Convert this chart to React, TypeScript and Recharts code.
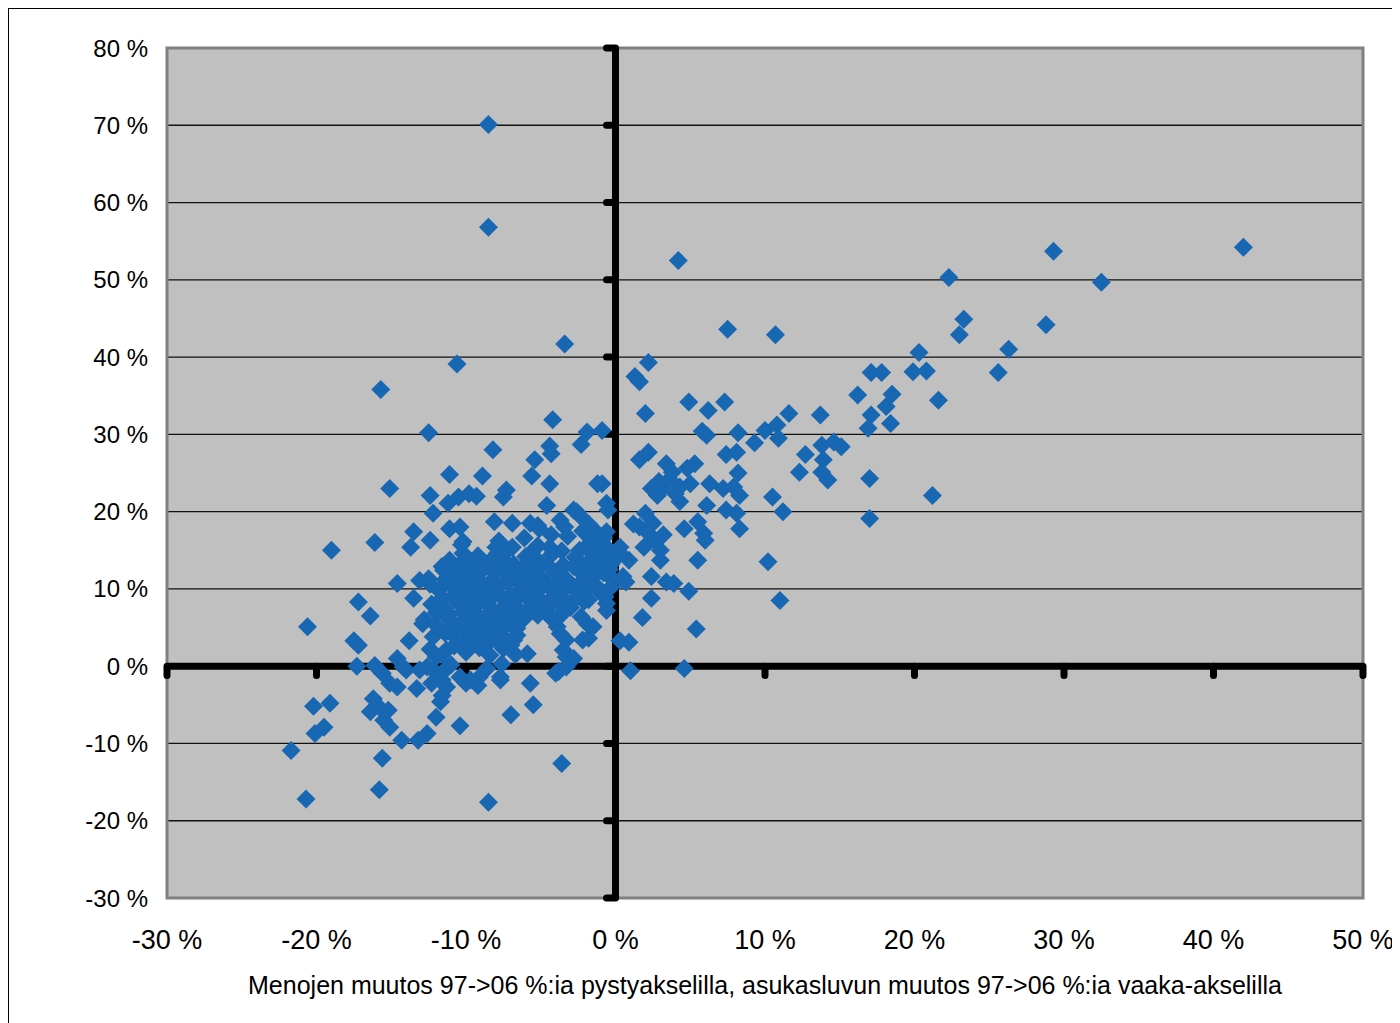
import React from "react";
import {
  ScatterChart,
  Scatter,
  XAxis,
  YAxis,
  CartesianGrid,
  ReferenceLine,
  ReferenceArea,
  Label,
} from "recharts";

// tick values (percent)
const xTicks = [-30, -20, -10, 0, 10, 20, 30, 40, 50];
const yTicks = [-30, -20, -10, 0, 10, 20, 30, 40, 50, 60, 70, 80];

const axisTitle =
  "Menojen muutos 97->06 %:ia pystyakselilla, asukasluvun muutos 97->06 %:ia vaaka-akselilla";

// [population change %, expenditure change %]
type Pt = [number, number];

const farRight: Pt[] = [
  [22.3, 50.3], [29.3, 53.7], [42.0, 54.2], [32.5, 49.7], [23.3, 44.9],
  [23.0, 42.9], [28.8, 44.2], [26.3, 41.0], [25.6, 38.0], [21.6, 34.4],
  [20.3, 40.6], [19.9, 38.1], [20.8, 38.2], [21.2, 22.1],
];

const rightMid: Pt[] = [
  [7.5, 43.6], [10.7, 42.9], [4.9, 34.2], [6.2, 33.1], [7.3, 34.2],
  [11.6, 32.7], [13.7, 32.5], [16.2, 35.1], [17.1, 38.0], [17.8, 38.0],
  [18.5, 35.2], [18.1, 33.6], [18.4, 31.4], [17.1, 32.5], [16.9, 30.8],
  [6.1, 29.9], [5.8, 30.4], [8.2, 30.2], [9.3, 28.9], [10.0, 30.5],
  [10.8, 31.2], [10.9, 29.5], [7.4, 27.4], [8.1, 27.7], [8.2, 25.0],
  [12.7, 27.4], [12.3, 25.1], [13.8, 28.6], [14.6, 29.0], [15.1, 28.4],
  [13.9, 26.7], [13.8, 25.1], [14.2, 24.1], [17.0, 24.3], [17.0, 19.1],
  [5.3, 26.2], [5.0, 23.6], [6.3, 23.6], [7.2, 23.0], [7.9, 23.2],
  [8.3, 22.1], [6.1, 20.8], [7.4, 20.2], [8.1, 19.8], [8.3, 17.8],
  [10.5, 21.9], [11.2, 20.0], [10.2, 13.5], [11.0, 8.5], [5.5, 18.7],
  [5.9, 17.2], [6.0, 16.3], [5.5, 13.7], [4.9, 9.7], [5.4, 4.8],
  [4.6, -0.3],
];

const nearRight: Pt[] = [
  [4.2, 52.5], [2.2, 39.3], [1.3, 37.5], [1.6, 36.8], [2.0, 32.7],
  [1.6, 26.7], [2.2, 27.7], [3.4, 26.2], [3.8, 25.1], [2.9, 23.9],
  [3.1, 23.0], [4.3, 23.2], [4.8, 25.6], [4.3, 21.3], [2.8, 22.1],
  [3.6, 24.2], [2.4, 23.0], [4.0, 22.3], [2.0, 19.8], [1.6, 18.0],
  [2.5, 18.5], [3.2, 17.0], [2.2, 17.2], [1.2, 18.4], [2.6, 16.3],
  [1.9, 15.4], [3.0, 15.0], [3.0, 13.7], [4.6, 17.8], [0.3, 15.4],
  [0.9, 13.7], [2.4, 11.6], [3.4, 10.9], [3.9, 10.7], [2.4, 8.8],
  [0.5, 11.6], [0.7, 10.9], [0.5, 11.1], [0.3, 14.6], [1.8, 6.3],
  [0.3, 3.3], [0.9, 3.1], [1.0, -0.6],
];

const nearZeroLeft: Pt[] = [
  [-0.1, 14.4], [-0.4, 11.6], [-0.9, 30.5], [-0.9, 23.6], [-0.6, 21.1],
  [-0.5, 20.2], [-0.6, 17.4], [-0.7, 9.0], [-0.6, 7.2], [-0.6, 8.1],
  [-0.1, 13.7], [-1.0, 12.4], [-1.0, 9.5], [-0.3, 10.2], [-1.3, 13.6],
  [-1.6, 16.3], [-0.8, 16.6],
];

const upperLeft: Pt[] = [
  [-8.5, 70.1], [-8.5, 56.8], [-3.4, 41.7], [-10.6, 39.1], [-15.7, 35.8],
  [-12.5, 30.2], [-15.1, 23.0], [-19.0, 15.0], [-16.1, 16.0], [-4.2, 31.9],
  [-8.2, 28.0], [-4.4, 28.5], [-4.3, 27.5], [-1.9, 30.3], [-2.3, 28.7],
  [-5.4, 26.7], [-5.6, 24.6], [-11.1, 24.8], [-8.9, 24.6], [-4.4, 23.6],
  [-1.2, 23.6], [-12.4, 22.1], [-12.2, 19.8], [-11.2, 21.1], [-10.5, 21.9],
  [-9.8, 22.3], [-9.3, 22.0], [-7.3, 22.8], [-7.5, 21.9], [-4.6, 20.8],
  [-13.5, 17.4], [-12.4, 16.3], [-11.1, 17.8], [-10.4, 18.0], [-10.2, 16.1],
  [-8.1, 18.7], [-6.9, 18.5], [-5.7, 18.5], [-5.1, 17.8], [-2.8, 20.2],
  [-3.7, 18.9], [-2.4, 19.5], [-1.5, 17.6], [-8.0, 15.4], [-13.7, 15.4],
  [-10.3, 15.7], [-10.2, 14.6], [-2.6, 20.0], [-1.3, 17.4],
];

const midLeft: Pt[] = [
  [-14.6, 10.7], [-13.1, 11.1], [-12.4, 10.6], [-17.2, 8.3], [-16.4, 6.5],
  [-20.6, 5.1], [-17.5, 3.3], [-17.2, 2.7], [-13.8, 3.3], [-17.3, 0.0],
  [-16.1, 0.1], [-15.6, -0.9], [-14.6, 1.0], [-14.0, -0.5], [-11.6, 12.9],
  [-11.1, 13.7], [-13.5, 8.8], [-14.2, -0.1], [-12.9, 5.5], [-12.2, 3.8],
  [-13.1, -0.5], [-12.0, 1.2], [-11.3, 2.1], [-12.5, 11.3], [-11.5, 12.4],
  [-11.0, 13.3], [-10.0, 11.8],
];

const lowerLeft: Pt[] = [
  [-15.1, -2.2], [-14.6, -2.7], [-13.3, -2.9], [-20.2, -5.2], [-19.1, -4.8],
  [-16.2, -4.2], [-16.4, -5.9], [-15.8, -5.3], [-15.2, -5.7], [-15.5, -7.0],
  [-15.1, -7.9], [-20.1, -8.7], [-19.5, -7.9], [-21.7, -10.9], [-14.3, -9.6],
  [-13.2, -9.6], [-12.6, -8.7], [-12.0, -6.6], [-10.4, -7.7], [-11.6, -3.8],
  [-11.7, -4.6], [-12.3, -2.2], [-11.6, -1.8], [-11.3, -2.7], [-10.0, -2.2],
  [-9.2, -2.5], [-7.7, -1.8], [-5.7, -2.2], [-5.5, -5.0], [-7.0, -6.3],
  [-3.6, -12.6], [-15.6, -11.9], [-15.8, -16.0], [-20.7, -17.2], [-8.5, -17.6],
  [-4.0, -0.9], [-12.6, -0.1], [-12.2, -0.5], [-11.7, -1.0], [-11.3, -0.3],
  [-10.4, -1.4], [-7.7, -1.4], [-9.1, -1.4], [-9.7, -1.8], [-3.8, -0.7],
];

// dense block of municipalities just left of the vertical axis
const core: Pt[] = [
  [-10.6, 9.8], [-9.7, 11.6], [-8.8, 9.4], [-8.2, 12.4], [-7.9, 14.6],
  [-9.3, 6.4], [-8.4, 7.7], [-7.7, 4.7], [-7.1, 6.0], [-10.8, 4.7],
  [-10.0, 3.4], [-9.1, 4.2], [-6.8, 3.4], [-6.6, 6.4], [-5.5, 8.1],
  [-4.6, 7.2], [-3.9, 9.4], [-5.9, 1.6], [-3.5, 2.1], [-3.3, -0.1],
  [-2.2, 3.4], [-1.9, 5.5], [-2.3, 6.4], [-3.3, 1.2], [-2.8, 1.0],
  [-1.8, 3.6], [-4.4, 6.4], [-1.5, 5.1], [-3.7, 4.2], [-3.3, 3.4],
  [-5.2, 18.2], [-4.3, 17.0], [-3.4, 18.0], [-3.2, 16.8], [-2.2, 17.5],
  [-1.8, 18.4], [-1.2, 16.8],
  [-7.8, 16.2], [-6.9, 15.4], [-6.1, 16.6], [-5.2, 15.6], [-4.4, 15.4],
  [-3.6, 14.9], [-2.0, 15.4], [-1.1, 15.8], [-0.4, 15.0],
  [-10.1, 13.8], [-9.2, 14.3], [-8.5, 13.4], [-7.6, 14.0], [-6.8, 13.2],
  [-6.0, 14.2], [-5.1, 13.5], [-4.3, 14.4], [-3.5, 13.1], [-2.7, 14.1],
  [-1.9, 13.3], [-1.1, 14.0], [-0.3, 13.2],
  [-10.8, 12.0], [-9.9, 11.4], [-9.0, 12.3], [-8.2, 11.2], [-7.4, 12.1],
  [-6.5, 11.5], [-5.7, 12.4], [-4.9, 11.3], [-4.0, 12.0], [-3.2, 11.1],
  [-2.4, 12.3], [-1.6, 11.4], [-0.8, 12.1],
  [-11.8, 9.8], [-11.0, 10.5], [-10.2, 9.3], [-9.4, 10.1], [-8.6, 9.5],
  [-7.8, 10.4], [-7.0, 9.2], [-6.2, 10.0], [-5.3, 9.6], [-4.5, 10.3],
  [-3.7, 9.4], [-2.9, 10.2], [-2.0, 9.7], [-1.3, 10.4],
  [-12.3, 8.0], [-11.4, 7.4], [-10.6, 8.3], [-9.8, 7.6], [-9.0, 8.4],
  [-8.2, 7.3], [-7.3, 8.1], [-6.5, 7.4], [-5.6, 8.2], [-4.8, 7.5],
  [-3.9, 8.3], [-3.0, 7.6], [-2.1, 8.4],
  [-12.8, 6.0], [-12.0, 5.3], [-11.2, 6.2], [-10.4, 5.5], [-9.6, 6.3],
  [-8.7, 5.2], [-7.9, 6.1], [-7.0, 5.4], [-6.1, 6.2], [-3.9, 5.1],
  [-11.4, 4.3], [-10.6, 3.5], [-9.8, 4.4], [-9.0, 3.2], [-8.3, 4.1],
  [-7.4, 3.6], [-6.6, 4.0],
  [-12.4, 2.2], [-11.6, 1.5], [-10.8, 2.6], [-10.0, 1.8], [-9.1, 2.4],
  [-8.4, 1.4], [-7.5, 2.3], [-6.7, 1.5],
  [-11.0, 0.2], [-8.6, -0.3], [-7.6, 0.3],
];

// further municipalities packed inside the same block
const coreFill: Pt[] = [
  [-7.2, 15.0], [-5.6, 14.8], [-2.4, 15.0], [-1.5, 14.6], [-0.7, 14.2],
  [-10.4, 12.8], [-9.5, 13.0], [-8.6, 12.9], [-7.8, 13.0], [-7.0, 12.7],
  [-6.1, 13.0], [-5.3, 12.7], [-4.5, 13.0], [-3.6, 12.6], [-2.8, 12.9],
  [-2.0, 12.6], [-1.2, 12.9], [-0.4, 12.5],
  [-11.4, 11.2], [-10.5, 10.7], [-9.7, 10.6], [-8.9, 10.8], [-8.1, 10.3],
  [-7.2, 10.8], [-6.4, 10.6], [-5.6, 10.9], [-4.8, 10.5], [-3.9, 10.8],
  [-3.1, 10.6], [-2.3, 10.9], [-1.6, 10.5],
  [-11.6, 8.8], [-10.9, 9.0], [-10.0, 8.8], [-9.2, 9.0], [-8.4, 8.6],
  [-7.6, 9.0], [-6.7, 8.6], [-5.9, 8.9], [-5.0, 8.6], [-4.2, 8.9],
  [-3.4, 8.6], [-2.6, 8.9], [-1.8, 8.6],
  [-12.0, 6.9], [-11.1, 6.7], [-10.2, 7.0], [-9.4, 6.9], [-8.6, 6.6],
  [-7.7, 7.0], [-6.9, 6.7], [-6.0, 7.0], [-5.2, 6.6], [-3.6, 6.7],
  [-10.9, 4.9], [-10.0, 5.1], [-9.2, 5.0], [-8.4, 4.8],
  [-7.5, 5.0], [-6.6, 4.9],
  [-10.2, 2.9], [-9.4, 3.0], [-8.6, 2.8],
  [-7.8, 3.0], [-7.0, 2.7],
];

const municipalities = [
  ...farRight,
  ...rightMid,
  ...nearRight,
  ...nearZeroLeft,
  ...upperLeft,
  ...midLeft,
  ...lowerLeft,
  ...core,
  ...coreFill,
].map(([x, y]) => ({ x, y }));

const pct = (v: number) => `${v} %`;

const Diamond = (props: any) => {
  const { cx, cy } = props;
  if (cx == null || cy == null) return null;
  const r = 9.5;
  return (
    <path
      d={`M${cx},${cy - r}L${cx + r},${cy}L${cx},${cy + r}L${cx - r},${cy}Z`}
      fill="#1767B3"
    />
  );
};

const App = () => {
  return (
    <div
      style={{
        width: 1400,
        height: 1030,
        border: "1px solid #000",
        fontFamily: "'Liberation Sans', Arial, sans-serif",
        background: "#fff",
      }}
    >
      <ScatterChart
        width={1390}
        height={1020}
        margin={{ top: 39, right: 36, bottom: 11, left: 0 }}
      >
        <CartesianGrid
          vertical={false}
          stroke="#111"
          strokeWidth={1.3}
          fill="#C0C0C0"
          fillOpacity={1}
        />
        <XAxis
          type="number"
          dataKey="x"
          domain={[-30, 50]}
          ticks={xTicks}
          interval={0}
          height={120}
          axisLine={false}
          tickLine={false}
          tickSize={0}
          tickMargin={32}
          tickFormatter={pct}
          tick={{ fill: "#000", fontSize: 27 }}
        >
          <Label
            value={axisTitle}
            position="insideBottom"
            offset={24}
            fill="#000"
            fontSize={25}
          />
        </XAxis>
        <YAxis
          type="number"
          dataKey="y"
          domain={[-30, 80]}
          ticks={yTicks}
          interval={0}
          width={158}
          axisLine={false}
          tickLine={false}
          tickSize={0}
          tickMargin={19}
          tickFormatter={pct}
          tick={{ fill: "#000", fontSize: 24 }}
        />
        <ReferenceArea
          x1={-30}
          x2={50}
          y1={-30}
          y2={80}
          fill="none"
          stroke="#808080"
          strokeWidth={3}
        />
        <ReferenceLine y={0} stroke="#000" strokeWidth={7} />
        <ReferenceLine x={0} stroke="#000" strokeWidth={7} />
        {xTicks.map((t) => (
          <ReferenceLine
            key={`xt${t}`}
            segment={[
              { x: t, y: 0 },
              { x: t, y: -1.2 },
            ]}
            stroke="#000"
            strokeWidth={7}
            strokeLinecap="round"
          />
        ))}
        {yTicks.map((t) => (
          <ReferenceLine
            key={`yt${t}`}
            segment={[
              { x: 0, y: t },
              { x: -0.6, y: t },
            ]}
            stroke="#000"
            strokeWidth={7}
            strokeLinecap="round"
          />
        ))}
        <Scatter
          data={municipalities}
          shape={Diamond}
          isAnimationActive={false}
        />
      </ScatterChart>
    </div>
  );
};

export default App;
